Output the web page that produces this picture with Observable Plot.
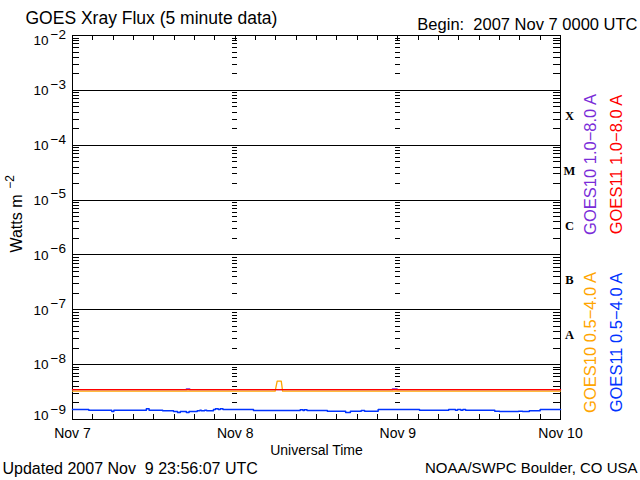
<!DOCTYPE html>
<html><head><meta charset="utf-8">
<script src="https://cdn.jsdelivr.net/npm/d3@7"></script>
<script src="https://cdn.jsdelivr.net/npm/@observablehq/plot@0.6"></script>
<style>
body{margin:0;background:#fff}
svg{display:block}
svg text{white-space:pre}
</style>
</head><body><div id="chart"></div>
<script>
// ---- data ----
const startDate = new Date(Date.UTC(2007, 10, 7));
const endDate = new Date(Date.UTC(2007, 10, 10));
const dayLabels = ["Nov 7", "Nov 8", "Nov 9", "Nov 10"];
const decadeValues = [1e-9, 1e-8, 1e-7, 1e-6, 1e-5, 1e-4, 1e-3, 1e-2];
const decadeExponents = ["−9", "−8", "−7", "−6", "−5", "−4", "−3", "−2"];
const flareClasses = ["A", "B", "C", "M", "X"];
const flareLower = [1e-8, 1e-7, 1e-6, 1e-5, 1e-4];

const titleText = "GOES Xray Flux (5 minute data)";
const beginText = "Begin:  2007 Nov 7 0000 UTC";
const updatedText = "Updated 2007 Nov  9 23:56:07 UTC";
const creditText = "NOAA/SWPC Boulder, CO USA";
const xTitle = "Universal Time";
const yTitle = "Watts m";
const yTitleExp = "−2";

const seriesNames = ["GOES10 1.0−8.0 A", "GOES11 1.0−8.0 A", "GOES10 0.5−4.0 A", "GOES11 0.5−4.0 A"];
const seriesColors = ["#7a2cd8", "#ff0000", "#ffa500", "#0033ff"];

// hours since 2007-11-07 00:00 UTC, flux in W m^-2 (x 1e-9)
const g10LongHours = [0, 16.8, 17.3, 47.2, 47.9, 72];
const g10LongFlux  = [3.5, 3.62, 3.5, 3.62, 3.5, 3.5];
const g11LongHours = [0, 72];
const g11LongFlux  = [3.5, 3.5];
const g10ShortHours = [0, 29.9, 30.2, 30.8, 31.0, 72];
const g10ShortFlux  = [3.3, 3.3, 5.0, 5.0, 3.3, 3.3];
const g11ShortHours = [0,2.4,5.8,6.1,10.9,11.3,13.3,14.9,15.5,15.9,16.8,17.2,18.4,18.8,19.0,19.5,19.8,20.8,21.1,21.5,21.8,22.2,26.7,33.6,34.0,34.2,34.6,37.6,40.3,41.0,42.6,43.1,45.1,51.2,55.5,56.5,56.8,57.3,57.6,58.0,62.3,63.0,65.8,66.4,67.4,69.0,72];
const g11ShortFlux  = [1.52,1.48,1.40,1.48,1.57,1.48,1.44,1.40,1.34,1.40,1.34,1.40,1.44,1.48,1.44,1.48,1.44,1.52,1.57,1.52,1.57,1.52,1.46,1.50,1.46,1.50,1.46,1.42,1.34,1.42,1.46,1.42,1.52,1.48,1.52,1.48,1.52,1.48,1.52,1.48,1.42,1.40,1.42,1.40,1.44,1.52,1.52];

// ---- derived tables ----
const toRows = (hours, flux) => hours.map((h, i) => ({t: d3.utcMinute.offset(startDate, Math.round(h * 60)), v: flux[i] * 1e-9}));
const g10Long = toRows(g10LongHours, g10LongFlux);
const g11Long = toRows(g11LongHours, g11LongFlux);
const g10Short = toRows(g10ShortHours, g10ShortFlux);
const g11Short = toRows(g11ShortHours, g11ShortFlux);

const dayTicks = d3.utcDay.range(startDate, d3.utcDay.offset(endDate, 1));
const innerDays = dayTicks.slice(1, -1);
const hourTicks = d3.utcHour.every(3).range(d3.utcHour.offset(startDate, 3), endDate);
const minorTicks = decadeValues.slice(0, -1).flatMap(d => d3.range(2, 10).map(k => k * d));
const dayColumnTicks = innerDays.flatMap(day => minorTicks.map(v => ({day, v})));
const gridValues = decadeValues.slice(1, -1);
const midDecades = decadeValues.slice(1, -1);

const font = "Liberation Sans";
const T = {fill: "black", textAnchor: "middle", lineAnchor: "middle"};
const tickFont = 13.5;

const chart = Plot.plot({
  width: 640, height: 480,
  marginLeft: 72, marginRight: 80, marginTop: 35, marginBottom: 61,
  style: {fontFamily: font, background: "white", overflow: "visible"},
  x: {type: "utc", domain: [startDate, endDate], axis: null},
  y: {type: "log", domain: [1e-9, 1e-2], axis: null},
  marks: [
    // grid and ticks
    Plot.ruleY(gridValues, {y: d => d, stroke: "black", strokeWidth: 1, shapeRendering: "crispEdges"}),
    Plot.ruleY(minorTicks, {y: d => d, insetRight: 481, stroke: "black", shapeRendering: "crispEdges"}),
    Plot.ruleY(minorTicks, {y: d => d, insetLeft: 481, stroke: "black", shapeRendering: "crispEdges"}),
    Plot.ruleY(dayColumnTicks, {y: "v", x1: d => d3.utcMinute.offset(d.day, -20), x2: d => d3.utcMinute.offset(d.day, 24), stroke: "black", shapeRendering: "crispEdges"}),
    Plot.ruleX(hourTicks, {x: d => d, insetTop: 379, stroke: "black", shapeRendering: "crispEdges"}),
    Plot.ruleX(hourTicks, {x: d => d, insetBottom: 379, stroke: "black", shapeRendering: "crispEdges"}),
    Plot.frame({stroke: "black", shapeRendering: "crispEdges"}),
    // data
    Plot.line(g10Long, {x: "t", y: "v", stroke: seriesColors[0], strokeWidth: 1.3, curve: "step-after"}),
    Plot.line(g10Short, {x: "t", y: "v", stroke: seriesColors[2], strokeWidth: 1.3, curve: "linear"}),
    Plot.line(g11Long, {x: "t", y: "v", stroke: seriesColors[1], strokeWidth: 1.3, curve: "step-after"}),
    Plot.line(g11Short, {x: "t", y: "v", stroke: seriesColors[3], strokeWidth: 1.5, curve: "step-after"}),
    // y tick labels: "10" and exponent
    Plot.text(midDecades, {...T, y: d => d, frameAnchor: "left", text: () => "10", textAnchor: "end", dx: -24, dy: 0.5, fontSize: tickFont}),
    Plot.text([decadeValues[0]], {...T, y: d => d, frameAnchor: "left", text: () => "10", textAnchor: "end", dx: -24, dy: -4, fontSize: tickFont}),
    Plot.text([decadeValues[7]], {...T, y: d => d, frameAnchor: "left", text: () => "10", textAnchor: "end", dx: -24, dy: 5, fontSize: tickFont}),
    Plot.text(midDecades, {...T, y: d => d, frameAnchor: "left", text: (d, i) => decadeExponents[i + 1], textAnchor: "start", dx: -22, dy: -6, fontSize: tickFont}),
    Plot.text([decadeValues[0]], {...T, y: d => d, frameAnchor: "left", text: () => decadeExponents[0], textAnchor: "start", dx: -22, dy: -10, fontSize: tickFont}),
    Plot.text([decadeValues[7]], {...T, y: d => d, frameAnchor: "left", text: () => decadeExponents[7], textAnchor: "start", dx: -22, dy: -1, fontSize: tickFont}),
    // flare class letters
    Plot.text(flareLower, {...T, y: d => d * Math.sqrt(10), frameAnchor: "right", text: (d, i) => flareClasses[i], dx: 9, dy: -2,
      fontFamily: "Liberation Serif", fontWeight: "bold", fontSize: 12.5}),
    // x tick labels
    Plot.text(dayTicks, {...T, x: d => d, frameAnchor: "bottom", text: (d, i) => dayLabels[i], dy: 14, fontSize: 14}),
    Plot.text([xTitle], {...T, frameAnchor: "bottom", text: d => d, dy: 31, fontSize: 14}),
    // y title
    Plot.text([yTitle], {...T, frameAnchor: "left", text: d => d, rotate: -90, dx: -55.5, dy: -4, fontSize: 16}),
    Plot.text([yTitleExp], {...T, frameAnchor: "left", text: d => d, rotate: -90, dx: -62, dy: -45.5, fontSize: 12}),
    // titles
    Plot.text([titleText], {...T, frameAnchor: "top-left", text: d => d, textAnchor: "start", dx: -47, dy: -17, fontSize: 17.5}),
    Plot.text([beginText], {...T, frameAnchor: "top-right", text: d => d, textAnchor: "end", dx: 77, dy: -11, fontSize: 16.5}),
    Plot.text([updatedText], {...T, frameAnchor: "bottom-left", text: d => d, textAnchor: "start", dx: -70, dy: 49, fontSize: 16}),
    Plot.text([creditText], {...T, frameAnchor: "bottom-right", text: d => d, textAnchor: "end", dx: 77, dy: 49, fontSize: 15}),
    // series legend (rotated)
    Plot.text([seriesNames[0]], {...T, frameAnchor: "top-right", text: d => d, rotate: -90, dx: 30, dy: 129, fontSize: 16.5, fill: seriesColors[0]}),
    Plot.text([seriesNames[1]], {...T, frameAnchor: "top-right", text: d => d, rotate: -90, dx: 56, dy: 129, fontSize: 16.5, fill: seriesColors[1]}),
    Plot.text([seriesNames[2]], {...T, frameAnchor: "top-right", text: d => d, rotate: -90, dx: 30, dy: 307, fontSize: 16.5, fill: seriesColors[2]}),
    Plot.text([seriesNames[3]], {...T, frameAnchor: "top-right", text: d => d, rotate: -90, dx: 56, dy: 307, fontSize: 16.5, fill: seriesColors[3]})
  ]
});
document.getElementById("chart").appendChild(chart);
</script>
</body></html>
